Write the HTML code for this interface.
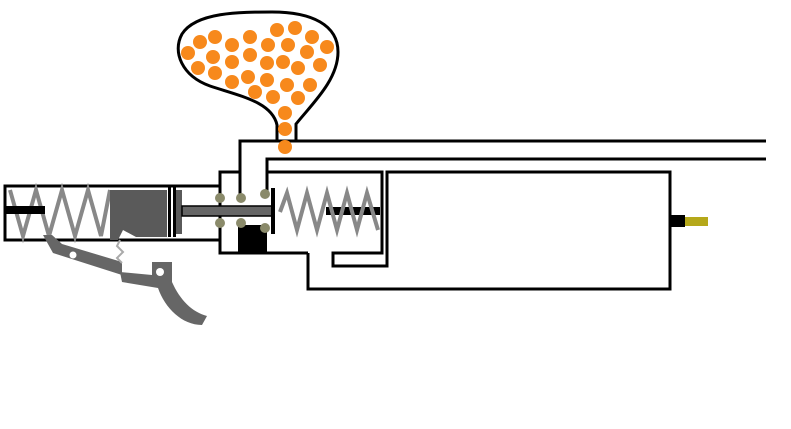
<!DOCTYPE html>
<html><head><style>body{margin:0;background:#fff}svg{display:block}</style></head><body>
<svg width="791" height="429" viewBox="0 0 791 429" xmlns="http://www.w3.org/2000/svg">
<g fill="none" stroke="#000" stroke-width="3">
<!-- hopper -->
<path d="M277,141 L277,125 C272,102 240,96 210,86 C182,76 172,52 182,34 C196,12 240,12 272,12 C312,12 338,25 338,52 C338,80 312,104 296,124 L296,141"/>
<!-- barrel lines -->
<polyline points="240,197 240,141 766,141"/>
<polyline points="267,194 267,159 766,159"/>
<!-- valve body -->
<polyline points="220,230 220,172 240,172"/>
<polyline points="220,230 220,253 308,253"/>
<polyline points="268,172 382,172 382,253 333,253 333,266 387,266 387,172 670,172 670,289 308,289 308,253"/>
<!-- left cylinder -->
<rect x="5" y="186" width="215" height="54"/>
</g>
<!-- left spring -->
<polyline points="10,190 23,236 36,190 49,236 62,190 75,236 88,190 101,236 110,190" fill="none" stroke="#888" stroke-width="4"/>
<rect x="5" y="206" width="40" height="8" fill="#000"/>
<!-- hammer -->
<path d="M110,190 L167,190 L167,237 L136,237 L123,230 L118,240 L110,240 Z" fill="#5a5a5a"/>
<rect x="168" y="187" width="3" height="50" fill="#000"/>
<rect x="173" y="187" width="3" height="50" fill="#000"/>
<rect x="176" y="190" width="6" height="44" fill="#5a5a5a"/>
<!-- rod -->
<rect x="182" y="206" width="91" height="10" fill="#666" stroke="#000" stroke-width="1.5"/>
<rect x="271" y="188" width="4" height="46" fill="#000"/>
<!-- right spring -->
<rect x="326" y="207" width="54" height="8" fill="#000"/>
<polyline points="280,212 287,193 297,230 307,193 317,230 327,193 337,230 347,193 357,230 367,193 378,230" fill="none" stroke="#888" stroke-width="4"/>
<!-- valve block -->
<rect x="238" y="225" width="29" height="27" fill="#000"/>
<g fill="#8a8a6a">
<circle cx="220" cy="198" r="5"/><circle cx="241" cy="198" r="5"/><circle cx="265" cy="194" r="5"/>
<circle cx="220" cy="223" r="5"/><circle cx="241" cy="223" r="5"/><circle cx="265" cy="228" r="5"/>
</g>
<!-- sear -->
<path d="M43,235 L53,253 L122,275 L122,262 L62,244 L52,235 Z" fill="#666"/>
<circle cx="73" cy="255" r="3.5" fill="#fff"/>
<polyline points="120,240 117,246 123,252 117,258 122,263" fill="none" stroke="#aaa" stroke-width="2"/>
<!-- trigger -->
<path d="M152,262 L172,262 L172,282 C180,300 192,312 207,316 L202,325 C182,325 165,308 158,288 L122,282 L120,272 L152,275 Z" fill="#666"/>
<circle cx="160" cy="272" r="4" fill="#fff"/>
<!-- muzzle -->
<rect x="670" y="215" width="15" height="12" fill="#000"/>
<rect x="685" y="217" width="23" height="9" fill="#b5a81a"/>
<!-- balls -->
<g fill="#f7891c">
<circle cx="188" cy="53" r="7"/><circle cx="200" cy="42" r="7"/><circle cx="215" cy="37" r="7"/><circle cx="232" cy="45" r="7"/>
<circle cx="250" cy="37" r="7"/><circle cx="277" cy="30" r="7"/><circle cx="295" cy="28" r="7"/><circle cx="312" cy="37" r="7"/>
<circle cx="327" cy="47" r="7"/><circle cx="307" cy="52" r="7"/><circle cx="288" cy="45" r="7"/><circle cx="268" cy="45" r="7"/>
<circle cx="250" cy="55" r="7"/><circle cx="232" cy="62" r="7"/><circle cx="213" cy="57" r="7"/><circle cx="198" cy="68" r="7"/>
<circle cx="215" cy="73" r="7"/><circle cx="232" cy="82" r="7"/><circle cx="248" cy="77" r="7"/><circle cx="267" cy="63" r="7"/>
<circle cx="283" cy="62" r="7"/><circle cx="298" cy="68" r="7"/><circle cx="320" cy="65" r="7"/><circle cx="267" cy="80" r="7"/>
<circle cx="287" cy="85" r="7"/><circle cx="310" cy="85" r="7"/><circle cx="255" cy="92" r="7"/><circle cx="273" cy="97" r="7"/>
<circle cx="298" cy="98" r="7"/><circle cx="285" cy="113" r="7"/><circle cx="285" cy="129" r="7"/><circle cx="285" cy="147" r="7"/>
</g>
</svg>
</body></html>
